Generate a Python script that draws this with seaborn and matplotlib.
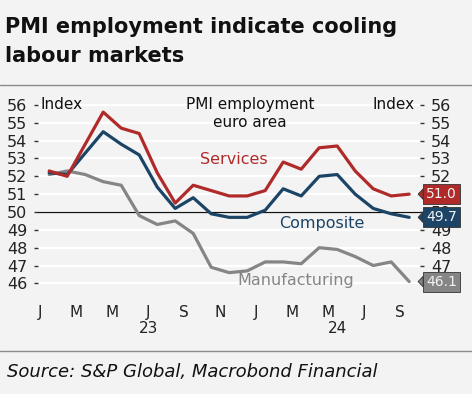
import numpy as np
import pandas as pd
import matplotlib
matplotlib.use("Agg")
import matplotlib.pyplot as plt
import seaborn as sns
from matplotlib.lines import Line2D
from matplotlib.transforms import blended_transform_factory

# ---------------- data ----------------
months = pd.date_range("2023-01-01", "2024-09-01", freq="MS")
services = [52.3, 52.0, 53.8, 55.6, 54.7, 54.4, 52.2, 50.5, 51.5, 51.2, 50.9,
            50.9, 51.2, 52.8, 52.4, 53.6, 53.7, 52.3, 51.3, 50.9, 51.0]
composite = [52.2, 52.1, 53.3, 54.5, 53.8, 53.2, 51.4, 50.2, 50.8, 49.9, 49.7,
             49.7, 50.1, 51.3, 50.9, 52.0, 52.1, 51.0, 50.2, 49.9, 49.7]
manufacturing = [52.1, 52.3, 52.1, 51.7, 51.5, 49.8, 49.3, 49.5, 48.8, 46.9, 46.6,
                 46.7, 47.2, 47.2, 47.1, 48.0, 47.9, 47.5, 47.0, 47.2, 46.1]
series_names = ["Manufacturing", "Composite", "Services"]
series_colors = {"Services": "#b02a2a", "Composite": "#1b4466", "Manufacturing": "#858585"}
month_letters = ["J", "F", "M", "A", "M", "J", "J", "A", "S", "O", "N", "D"]
yticks = list(range(46, 57))

# ---------------- frame ----------------
idx = np.arange(len(months))
xpos = idx + 0.5  # monthly values plotted mid-month
values = {"Services": services, "Composite": composite, "Manufacturing": manufacturing}
df = pd.concat([pd.DataFrame({"x": xpos, "value": values[n], "series": n}) for n in series_names])

BG = "#f3f3f3"
sns.set_theme(style="white")
plt.rcParams["font.family"] = ["DejaVu Sans"]

W, H = 472, 394
fig = plt.figure(figsize=(W / 100, H / 100), dpi=100, facecolor=BG)
ax = fig.add_axes([38.4 / W, 1 - 288.7 / H, (420 - 38.4) / W, (288.7 - 101.4) / H])
ax.set_facecolor(BG)

ax.set_xlim(-0.1, len(months) + 0.1)
ax.set_ylim(45.7, 56.2)

for y in yticks:
    ax.axhline(y, color="white", lw=1.6, zorder=0.5)
ax.axhline(50, color="#111111", lw=0.9, zorder=1, xmax=1.01, clip_on=False)

sns.lineplot(data=df, x="x", y="value", hue="series", hue_order=series_names,
             palette=series_colors, linewidth=2.3, legend=False, ax=ax, zorder=3)

ax.set_xlabel("")
ax.set_ylabel("")
for s in ax.spines.values():
    s.set_visible(False)
ax.spines["bottom"].set_position(("outward", 4))

# x ticks
tick_pos = idx[::2]
ax.set_xticks(tick_pos)
ax.set_xticklabels([month_letters[m.month - 1] for m in months[::2]])
ax.tick_params(axis="x", length=3, width=0.8, color="#555555", pad=5,
               labelsize=11, labelcolor="#222222")

# y ticks left
ax.set_yticks(yticks)
ax.set_yticklabels([str(v) for v in yticks])
ax.tick_params(axis="y", length=3, width=1, color="#333333", pad=5,
               labelsize=11.5, labelcolor="#222222", left=True)

# y ticks right
ax2 = ax.twinx()
ax2.set_ylim(ax.get_ylim())
ax2.set_yticks(yticks)
ax2.set_yticklabels([str(v) for v in yticks])
ax2.tick_params(axis="y", length=3, width=1, color="#333333", pad=5,
                labelsize=11.5, labelcolor="#222222", right=True)
for s in ax2.spines.values():
    s.set_visible(False)

# year labels
years = months.year
btr = blended_transform_factory(ax.transData, ax.transAxes)
for yr in sorted(set(years)):
    sel = idx[years == yr]
    xc = (sel.min() + sel.max() + 1) / 2
    ax.text(xc, -0.215, str(yr)[-2:], transform=btr, ha="center", va="center",
            fontsize=11, color="#222222")

# in-plot texts
ax.text(0.005, 0.981, "Index", transform=ax.transAxes, ha="left", va="center", fontsize=11, color="#111111")
ax.text(0.985, 0.981, "Index", transform=ax.transAxes, ha="right", va="center", fontsize=11, color="#111111")
ax.text(0.555, 0.981, "PMI employment", transform=ax.transAxes, ha="center", va="center",
        fontsize=11, color="#111111")
ax.text(0.555, 0.89, "euro area", transform=ax.transAxes, ha="center", va="center",
        fontsize=11, color="#111111")

# series labels
lbl = {"Services": (0.513, 0.692), "Composite": (0.744, 0.35), "Manufacturing": (0.675, 0.046)}
for n, (lx, ly) in lbl.items():
    ax.text(lx, ly, n, transform=ax.transAxes, ha="center", va="center",
            fontsize=11.5, color=series_colors[n])

# end value tags
rtr = blended_transform_factory(ax.transAxes, ax.transData)
for n in series_names:
    v = values[n][-1]
    ax2.annotate(f"{v:.1f}", xy=(0.995, v), xycoords=rtr, xytext=(6, 0),
                 textcoords="offset points", ha="left", va="center", fontsize=10,
                 color="#f2f2f2", annotation_clip=False, zorder=10,
                 bbox=dict(boxstyle="square,pad=0.22", fc=series_colors[n], ec="#333333", lw=0.6),
                 arrowprops=dict(arrowstyle="wedge,tail_width=0.75,shrink_factor=0.5",
                                 fc=series_colors[n], ec="#333333", lw=0.6,
                                 shrinkA=0, shrinkB=0))

# title / source / separators
fig.text(5 / W, 1 - 33 / H, "PMI employment indicate cooling", fontsize=15, weight="bold",
         color="#111111", va="baseline")
fig.text(5 / W, 1 - 62 / H, "labour markets", fontsize=15, weight="bold",
         color="#111111", va="baseline")
fig.add_artist(Line2D([0, 1], [1 - 85 / H] * 2, transform=fig.transFigure, color="#8a8a8a", lw=1))
fig.add_artist(Line2D([0, 1], [1 - 351 / H] * 2, transform=fig.transFigure, color="#8a8a8a", lw=1))
fig.text(7 / W, 1 - 377 / H, "Source: S&P Global, Macrobond Financial", fontsize=13,
         style="italic", color="#111111", va="baseline")

fig.savefig("out.png", dpi=100, facecolor=BG)
